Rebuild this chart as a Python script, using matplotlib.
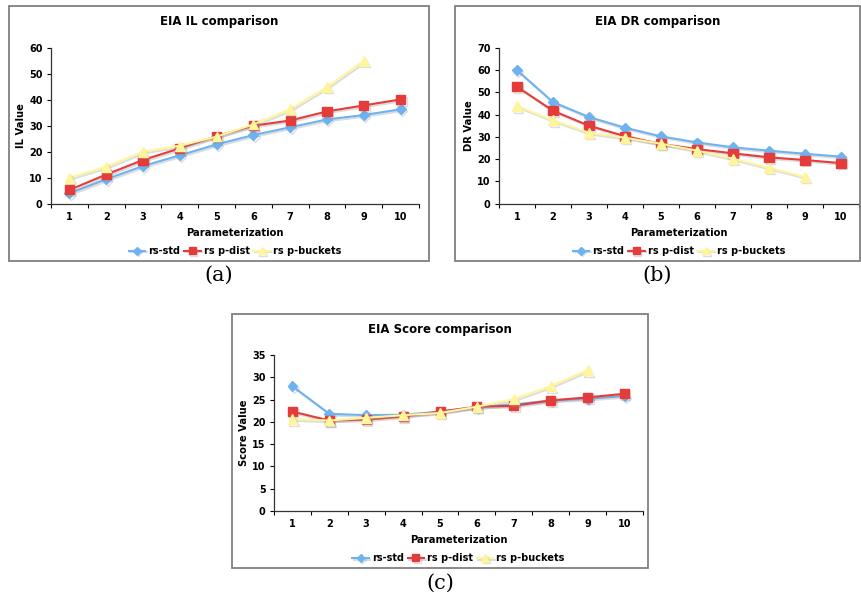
"""
EIA comparison charts: IL, DR and Score per parameterization
"""

import matplotlib
import matplotlib.pyplot as plt
import matplotlib.patheffects as pe
from matplotlib.patches import Rectangle
matplotlib.use("AGG")

W, H = 862, 596

# x categories
params = [1, 2, 3, 4, 5, 6, 7, 8, 9, 10]
params_buckets = [1, 2, 3, 4, 5, 6, 7, 8, 9]

# (a) IL values
il_std = [4.0, 9.4, 14.5, 18.6, 22.8, 26.4, 29.4, 32.4, 34.1, 36.3]
il_dist = [5.3, 11.2, 16.8, 21.3, 26.0, 30.0, 32.0, 35.5, 37.8, 40.1]
il_buckets = [10.0, 14.2, 20.0, 22.3, 25.8, 30.5, 36.3, 44.9, 54.9]

# (b) DR values
dr_std = [59.9, 45.6, 38.9, 34.1, 30.2, 27.5, 25.3, 23.8, 22.4, 21.1]
dr_dist = [52.5, 41.7, 35.0, 30.3, 26.8, 24.5, 22.6, 20.8, 19.6, 18.2]
dr_buckets = [43.8, 37.4, 31.8, 29.6, 26.9, 23.8, 20.2, 16.1, 12.0]

# (c) Score values
sc_std = [28.0, 21.8, 21.5, 21.6, 22.3, 23.3, 23.9, 24.8, 25.2, 25.8]
sc_dist = [22.3, 20.3, 20.5, 21.2, 22.3, 23.4, 23.6, 24.8, 25.5, 26.3]
sc_buckets = [20.6, 20.3, 20.9, 21.5, 22.0, 23.4, 25.1, 28.0, 31.6]

labels = ['rs-std', 'rs p-dist', 'rs p-buckets']
BLUE, RED, YELLOW = '#6db3f2', '#e63b3b', '#fff59c'

fig = plt.figure(figsize=(W / 100, H / 100), dpi=100)


def fx(x):
    return x / W


def fy(y):
    return 1 - y / H


def rect(l, t, r, b):
    return [fx(l), fy(b), (r - l) / W, (b - t) / H]


shadow = [pe.SimpleLineShadow(offset=(1, -1.2), shadow_color='#909090', alpha=0.3), pe.Normal()]


def panel(frame, axbox, title, ylabel, ymax, ystep, s1, s2, s3, tag, tag_y):
    l, t, r, b = frame
    fig.patches.append(Rectangle((fx(l), fy(b)), (r - l) / W, (b - t) / H,
                                 transform=fig.transFigure, fill=False,
                                 edgecolor='#7f7f7f', linewidth=1.3))
    ax = fig.add_axes(rect(*axbox))
    ax.plot(params, s1, '-D', color=BLUE, ms=5, lw=1.5, label=labels[0], path_effects=shadow)
    ax.plot(params, s2, '-s', color=RED, ms=6.5, lw=1.5, label=labels[1], path_effects=shadow)
    ax.plot(params_buckets, s3, '-^', color=YELLOW, ms=7, lw=1.5, label=labels[2], path_effects=shadow)

    ax.set_xlim(0.5, 10.5)
    ax.set_ylim(0, ymax)
    ax.set_yticks(range(0, ymax + 1, ystep))
    ax.set_xticks(params)
    ax.set_xticks([p + 0.5 for p in range(0, 11)], minor=True)
    ax.tick_params(axis='x', which='major', length=0, pad=6, labelsize=7)
    ax.tick_params(axis='x', which='minor', length=3, width=0.8, direction='out')
    ax.tick_params(axis='y', length=3, width=0.8, labelsize=7, pad=3)
    for lab in ax.get_xticklabels() + ax.get_yticklabels():
        lab.set_fontweight('bold')
    for s in ['top', 'right']:
        ax.spines[s].set_visible(False)
    for s in ['left', 'bottom']:
        ax.spines[s].set_color('#333333')
        ax.spines[s].set_linewidth(0.9)
    ax.set_xlabel('Parameterization', fontsize=7.2, fontweight='bold', labelpad=4)
    ax.set_ylabel(ylabel, fontsize=7.2, fontweight='bold', labelpad=2)

    ax.legend(loc='upper center', bbox_to_anchor=(0.5, -0.215), ncol=3, frameon=False,
              prop={'weight': 'bold', 'size': 7}, handlelength=1.7,
              handletextpad=0.3, columnspacing=0.4, markerscale=0.8)

    fig.text(fx((l + r) / 2), fy(t + 16), title, ha='center', va='center',
             fontsize=8.5, fontweight='bold')
    fig.text(fx((l + r) / 2), fy(tag_y), tag, ha='center', va='center',
             fontsize=15, family='DejaVu Serif')
    return ax


panel((9, 6, 429, 261), (51, 47.7, 419, 203.7), 'EIA IL comparison', 'IL Value',
      60, 10, il_std, il_dist, il_buckets, '(a)', 275)
panel((455, 6, 860, 261), (499, 47.7, 859, 203.7), 'EIA DR comparison', 'DR Value',
      70, 10, dr_std, dr_dist, dr_buckets, '(b)', 275)
panel((232, 314, 648, 568), (274, 355, 643, 511), 'EIA Score comparison', 'Score Value',
      35, 5, sc_std, sc_dist, sc_buckets, '(c)', 583)

plt.savefig('out.png', dpi=100)
